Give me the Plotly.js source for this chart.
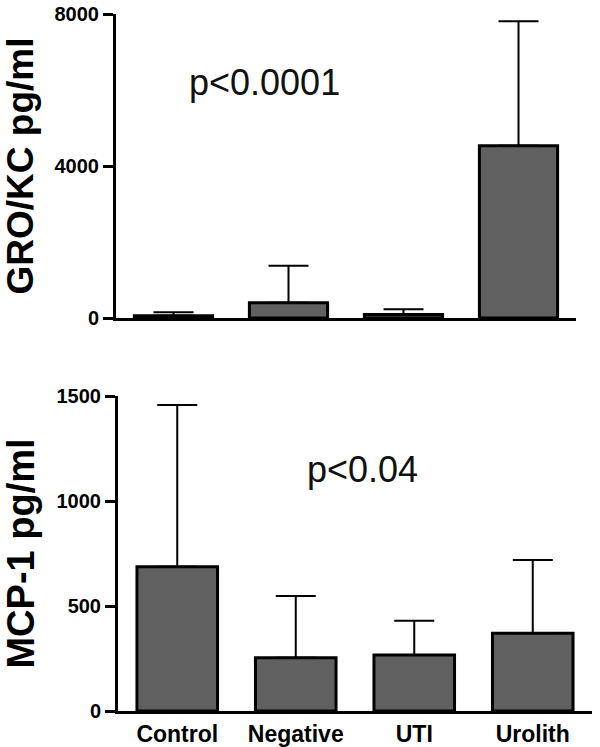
<!DOCTYPE html>
<html>
<head>
<meta charset="utf-8">
<script src="https://cdn.plot.ly/plotly-3.0.1.min.js"></script>
<style>html,body{margin:0;padding:0;background:#fff;}#chart{width:600px;height:747px;}</style>
</head>
<body>
<div id="chart"></div>
<script>
var categories = ["Control", "Negative", "UTI", "Urolith"];
var groKcMean = [60, 400, 90, 4530];
var groKcErr = [90, 975, 140, 3280];
var mcp1Mean = [687, 254, 267, 370];
var mcp1Err = [770, 294, 163, 349];
var groTicks = [0, 4000, 8000];
var mcpTicks = [0, 500, 1000, 1500];

var FONT = "Arial, 'Liberation Sans', sans-serif";
var barColor = "#606060";

function barTrace(y, err, xa, ya) {
  return {
    type: "bar", x: categories, y: y, xaxis: xa, yaxis: ya,
    width: 0.68,
    marker: {color: barColor, line: {color: "#000", width: 3}},
    error_y: {type: "data", array: err, symmetric: false, arrayminus: y.map(function(){return 0;}),
              color: "#000", thickness: 2, width: 20},
    hoverinfo: "skip", showlegend: false
  };
}

var data = [
  barTrace(groKcMean, groKcErr, "x", "y"),
  barTrace(mcp1Mean, mcp1Err, "x2", "y2")
];

var yCommon = {
  showgrid: false, zeroline: false, showline: true, linecolor: "#000", linewidth: 3,
  ticks: "outside", ticklen: 10, tickwidth: 3, tickcolor: "#000",
  tickfont: {family: FONT, size: 20, color: "#000", weight: "bold"},
  fixedrange: true
};

var layout = {
  width: 600, height: 747,
  margin: {l: 0, r: 0, t: 0, b: 0},
  paper_bgcolor: "#fff", plot_bgcolor: "#fff",
  font: {family: FONT, color: "#000"},
  xaxis: {
    domain: [116/600, 576/600], anchor: "y", range: [-0.5, 3.5],
    showline: true, linecolor: "#000", linewidth: 3, ticks: "", showticklabels: false,
    showgrid: false, zeroline: false, fixedrange: true
  },
  yaxis: Object.assign({}, yCommon, {
    domain: [(747-318)/747, (747-14)/747], anchor: "x", range: [0, 8000],
    tickvals: groTicks, ticktext: groTicks.map(String),
    title: {text: "GRO/KC pg/ml", font: {family: FONT, size: 37, color: "#000", weight: "bold"}, standoff: 11}
  }),
  xaxis2: {
    domain: [118/600, 592/600], anchor: "y2", range: [-0.5, 3.5],
    showline: true, linecolor: "#000", linewidth: 3, ticks: "",
    tickfont: {family: FONT, size: 23, color: "#000", weight: "bold"},
    showgrid: false, zeroline: false, fixedrange: true
  },
  yaxis2: Object.assign({}, yCommon, {
    domain: [(747-711)/747, (747-396)/747], anchor: "x2", range: [0, 1500],
    tickvals: mcpTicks, ticktext: mcpTicks.map(String),
    title: {text: "MCP-1 pg/ml", font: {family: FONT, size: 38, color: "#000", weight: "bold"}, standoff: 11}
  }),
  annotations: [
    {text: "p<0.0001", xref: "paper", yref: "paper", x: 187/600, y: (747-82)/747,
     xanchor: "left", yanchor: "middle", showarrow: false,
     font: {family: FONT, size: 36, color: "#111"}},
    {text: "p<0.04", xref: "paper", yref: "paper", x: 305/600, y: (747-469)/747,
     xanchor: "left", yanchor: "middle", showarrow: false,
     font: {family: FONT, size: 36, color: "#111"}}
  ]
};

Plotly.newPlot("chart", data, layout, {displayModeBar: false, staticPlot: true});
</script>
</body>
</html>
